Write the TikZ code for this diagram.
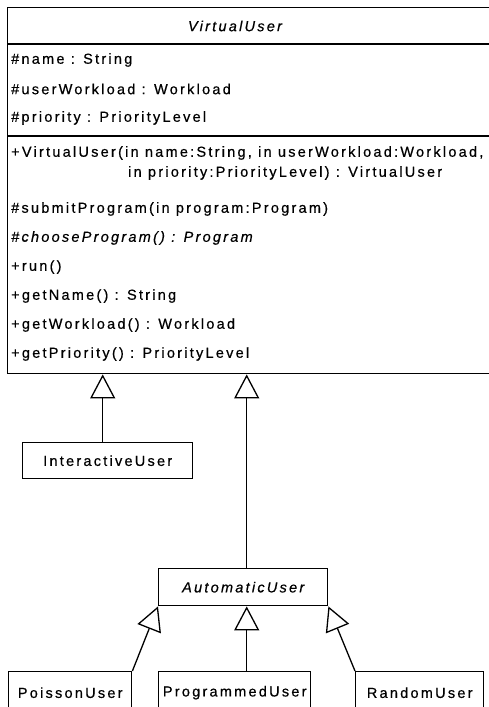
\documentclass[tikz,border=0pt]{standalone}
\usepackage{fontspec}
\setmainfont{Liberation Sans}[LetterSpace=15.5, FakeBold=0.5]
\usetikzlibrary{arrows.meta}

\tikzset{
  umlfont/.style={font=\fontsize{14.5}{17}\selectfont},
  member/.style={umlfont, anchor=west, inner sep=0pt},
  classbox/.style={draw, line width=1.4pt, inner sep=0pt, anchor=north west, umlfont},
  divider/.style={line width=1.4pt},
  generalize/.style={line width=1.3pt,
    -{Triangle[open, length=24pt, width=25pt, line width=1.3pt]}},
}

\begin{document}
\begin{tikzpicture}[x=1pt, y=-1pt]
\useasboundingbox (0,0) rectangle (489,707);
\clip (0,0) rectangle (489,707);

% VirtualUser class (its right side runs past the page edge)
\node[classbox, minimum width=510pt, minimum height=366pt] (vu) at (7,7) {};
\node[umlfont, inner sep=0pt] (vutitle) at (235,26) {\itshape VirtualUser};
\draw[divider] (7,44) -- (517,44);
\draw[divider] (7,136) -- (517,136);

% attributes
\node[member] (attrName)     at (11,60)  {\#name : String};
\node[member] (attrWorkload) at (11,89)  {\#userWorkload : Workload};
\node[member] (attrPriority) at (11,118) {\#priority : PriorityLevel};

% operations
\node[member] (opCtor)      at (11,153)  {+VirtualUser(in name:String, in userWorkload:Workload,};
\node[member] (opCtorB)     at (128,173) {in priority:PriorityLevel) : VirtualUser};
\node[member] (opSubmit)    at (11,209)  {\#submitProgram(in program:Program)};
\node[member] (opChoose)    at (11,238)  {\itshape \#chooseProgram() : Program};
\node[member] (opRun)       at (11,267)  {+run()};
\node[member] (opName)      at (11,296)  {+getName() : String};
\node[member] (opWorkload)  at (11,325)  {+getWorkload() : Workload};
\node[member] (opPriority)  at (11,354)  {+getPriority() : PriorityLevel};

% subclasses
\node[classbox, minimum width=170pt, minimum height=36pt] (inter) at (22,442) {InteractiveUser};
\node[classbox, minimum width=169pt, minimum height=37pt] (auto) at (158,568) {\itshape AutomaticUser};
\node[classbox, minimum width=123pt, minimum height=42pt] (poisson) at (8,671) {PoissonUser};
\node[classbox, minimum width=152pt, minimum height=42pt] (prog) at (158,671) {ProgrammedUser};
\node[classbox, minimum width=128pt, minimum height=42pt] (random) at (355,671) {RandomUser};

% generalization arrows
\draw[generalize] ([xshift=-5pt]inter.north) -- ([xshift=-5pt]inter.north |- vu.south);
\draw[generalize] ([xshift=3.5pt]auto.north) -- ([xshift=3.5pt]auto.north |- vu.south);
\draw[generalize] ([xshift=12pt]prog.north) -- ([xshift=12pt]prog.north |- auto.south);
\draw[generalize] (poisson.north east) -- (auto.south west);
\draw[generalize] (random.north west) -- (auto.south east);
\end{tikzpicture}
\end{document}
